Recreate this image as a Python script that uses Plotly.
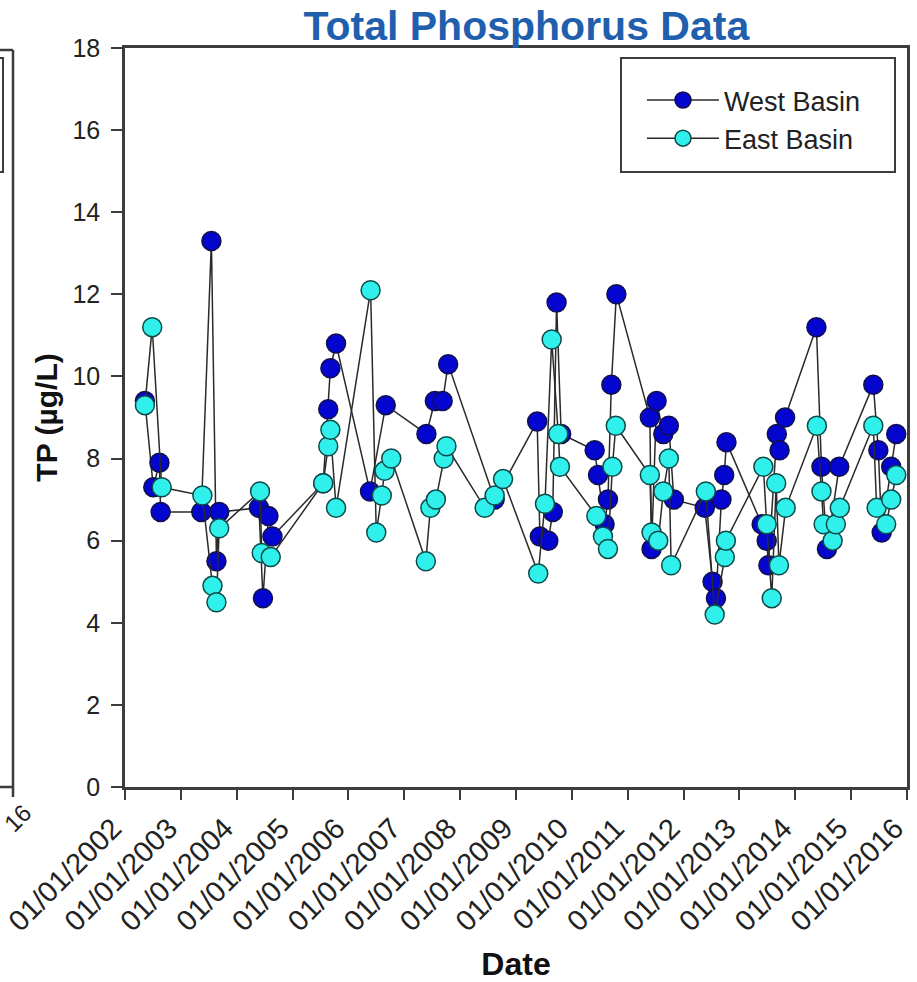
import plotly.graph_objects as go

# ---------------- data ----------------
west_dates = [
    "2002-05-11", "2002-07-05", "2002-08-14", "2002-08-22",
    "2003-05-15", "2003-07-20", "2003-08-22", "2003-09-09",
    "2004-05-26", "2004-06-21", "2004-07-27", "2004-08-22",
    "2005-07-20", "2005-08-22", "2005-09-05", "2005-10-12",
    "2006-05-22", "2006-09-02",
    "2007-05-26", "2007-07-20", "2007-09-09", "2007-10-15",
    "2008-08-14",
    "2009-05-19", "2009-06-06", "2009-07-31", "2009-08-29", "2009-09-23", "2009-10-23",
    "2010-05-30", "2010-06-21", "2010-08-03", "2010-08-25", "2010-09-16", "2010-10-19",
    "2011-05-26", "2011-06-06", "2011-07-09", "2011-08-22", "2011-09-27", "2011-10-30",
    "2012-05-19", "2012-07-09", "2012-07-31", "2012-09-05", "2012-09-23", "2012-10-08",
    "2013-05-26", "2013-06-28", "2013-07-09", "2013-09-02", "2013-09-20", "2013-10-26",
    "2014-05-19", "2014-06-21", "2014-07-27", "2014-10-15",
    "2015-05-26", "2015-06-28", "2015-07-20", "2015-09-20", "2015-10-23",
]
west_tp = [
    9.4, 7.3, 7.9, 6.7,
    6.7, 13.3, 5.5, 6.7,
    6.8, 4.6, 6.6, 6.1,
    7.4, 9.2, 10.2, 10.8,
    7.2, 9.3,
    8.6, 9.4, 9.4, 10.3,
    7.0,
    8.9, 6.1, 6.0, 6.7, 11.8, 8.6,
    8.2, 7.6, 6.4, 7.0, 9.8, 12.0,
    9.0, 5.8, 9.4, 8.6, 8.8, 7.0,
    6.8, 5.0, 4.6, 7.0, 7.6, 8.4,
    6.4, 6.0, 5.4, 8.6, 8.2, 9.0,
    11.2, 7.8, 5.8, 7.8,
    9.8, 8.2, 6.2, 7.8, 8.6,
]

east_dates = [
    "2002-05-11", "2002-06-28", "2002-08-29",
    "2003-05-22", "2003-07-27", "2003-08-22", "2003-09-09",
    "2004-06-02", "2004-06-13", "2004-08-11",
    "2005-07-20", "2005-08-22", "2005-09-05", "2005-10-12",
    "2006-05-26", "2006-07-02", "2006-08-07", "2006-08-25", "2006-10-08",
    "2007-05-22", "2007-06-21", "2007-07-27", "2007-09-16", "2007-10-04",
    "2008-06-10", "2008-08-14", "2008-10-08",
    "2009-05-26", "2009-07-09", "2009-08-22", "2009-10-04", "2009-10-15",
    "2010-06-10", "2010-07-23", "2010-08-25", "2010-09-23", "2010-10-15",
    "2011-05-26", "2011-06-06", "2011-07-20", "2011-08-22", "2011-09-27", "2011-10-12",
    "2012-05-26", "2012-07-23", "2012-09-27", "2012-10-04",
    "2013-06-06", "2013-06-28", "2013-07-31", "2013-08-29", "2013-09-16", "2013-10-30",
    "2014-05-22", "2014-06-21", "2014-07-05", "2014-09-02", "2014-09-23", "2014-10-19",
    "2015-05-26", "2015-06-17", "2015-08-18", "2015-09-20", "2015-10-23",
]
east_tp = [
    9.3, 11.2, 7.3,
    7.1, 4.9, 4.5, 6.3,
    7.2, 5.7, 5.6,
    7.4, 8.3, 8.7, 6.8,
    12.1, 6.2, 7.1, 7.7, 8.0,
    5.5, 6.8, 7.0, 8.0, 8.3,
    6.8, 7.1, 7.5,
    5.2, 6.9, 10.9, 8.6, 7.8,
    6.6, 6.1, 5.8, 7.8, 8.8,
    7.6, 6.2, 6.0, 7.2, 8.0, 5.4,
    7.2, 4.2, 5.6, 6.0,
    7.8, 6.4, 4.6, 7.4, 5.4, 6.8,
    8.8, 7.2, 6.4, 6.0, 6.4, 6.8,
    8.8, 6.8, 6.4, 7.0, 7.6,
]

series_names = ["West Basin", "East Basin"]
x_range = ["2002-01-01", "2016-01-01 08:00"]
y_range = [0, 18]

# ---------------- figure ----------------
FONT = "Liberation Sans, Arial, sans-serif"
fig = go.Figure()

fig.add_trace(go.Scatter(
    x=west_dates, y=west_tp, name=series_names[0], mode="lines+markers",
    line=dict(color="#2a2a2a", width=1.5),
    marker=dict(size=19, color="#0505d0", line=dict(color="#10104a", width=1.5)),
))
fig.add_trace(go.Scatter(
    x=east_dates, y=east_tp, name=series_names[1], mode="lines+markers",
    line=dict(color="#2a2a2a", width=1.5),
    marker=dict(size=19, color="#2ff0ea", line=dict(color="#0f4a4a", width=1.5)),
))

axis_col = "#3c3c3c"


def px(xp):
    return (xp - 125) / 782


def py(yp):
    return (787 - yp) / 739


fig.update_layout(
    width=917, height=982,
    margin=dict(l=125, r=10, t=48, b=195, autoexpand=False),
    paper_bgcolor="white", plot_bgcolor="white",
    font=dict(family=FONT, color="#222"),
    title=dict(text="<b>Total Phosphorus Data</b>", x=0.574, xanchor="center",
               y=1 - 26 / 982, yanchor="middle", yref="container",
               font=dict(size=41, color="#1f5fae", family=FONT)),
    showlegend=True,
    legend=dict(x=px(642), y=py(76), xanchor="left", yanchor="top",
                bgcolor="rgba(0,0,0,0)", borderwidth=0,
                font=dict(size=27, color="#222", family=FONT),
                itemwidth=72, itemsizing="trace", tracegroupgap=0),
)
fig.update_xaxes(
    type="date", range=x_range, dtick="M12", tick0="2002-01-01",
    tickformat="%m/%d/%Y", tickangle=-45, ticklabeloverflow="allow",
    ticklabelshift=-12, automargin=False,
    tickfont=dict(size=29, color="#222"),
    ticks="outside", ticklen=10, tickwidth=2, tickcolor=axis_col,
    showline=True, linecolor=axis_col, linewidth=2.5, mirror=True,
    showgrid=False, zeroline=False,
    title=dict(text="<b>Date</b>", font=dict(size=32, color="#111"), standoff=17),
)
fig.update_yaxes(
    range=y_range, dtick=2, tick0=0, automargin=False,
    tickfont=dict(size=25, color="#222"),
    ticks="outside", ticklen=11, tickwidth=2, tickcolor=axis_col,
    ticklabelstandoff=6,
    showline=True, linecolor=axis_col, linewidth=2.5, mirror=True,
    showgrid=False, zeroline=False,
    title=dict(text="<b>TP (µg/L)</b>", font=dict(size=30, color="#111"), standoff=6),
)

# legend frame
fig.add_shape(type="rect", xref="paper", yref="paper", x0=px(621), x1=px(895), y0=py(58), y1=py(172),
              line=dict(color=axis_col, width=2), fillcolor="rgba(0,0,0,0)", layer="below")

# remnants of the neighbouring (cut-off) chart on the left edge
edge = dict(color=axis_col, width=2.5)
fig.add_shape(type="line", xref="paper", yref="paper", x0=px(-5), x1=px(13), y0=py(50), y1=py(50), line=edge)
fig.add_shape(type="line", xref="paper", yref="paper", x0=px(13), x1=px(13), y0=py(50), y1=py(797), line=edge)
fig.add_shape(type="line", xref="paper", yref="paper", x0=px(-5), x1=px(13), y0=py(787), y1=py(787), line=edge)
fig.add_shape(type="rect", xref="paper", yref="paper", x0=px(-40), x1=px(3), y0=py(58), y1=py(172),
              line=dict(color=axis_col, width=2))
fig.add_annotation(text="16", xref="paper", yref="paper", x=px(17), y=py(818),
                   xanchor="center", yanchor="middle", textangle=-45, showarrow=False,
                   font=dict(size=24, color="#222", family=FONT))

fig.write_html("out.html")
